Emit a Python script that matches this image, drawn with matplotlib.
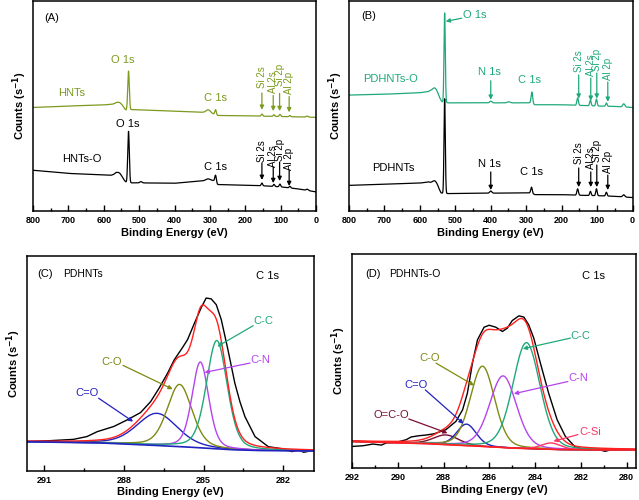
import numpy as np
import matplotlib
matplotlib.use("Agg")
from matplotlib import pyplot as plt

plt.rcParams['font.family'] = ['Liberation Sans', 'DejaVu Sans']

# ---------------- survey spectra (A), (B) ----------------
# baseline points (binding energy, counts)
hnts_base_E = [800, 700, 600, 565, 548, 538, 520, 400, 320, 295, 280, 200, 100, 0]
hnts_base_y = [49.3, 50.0, 50.5, 51.0, 49.5, 48.0, 48.3, 47.5, 47.0, 46.5, 45.5, 45.3, 45.0, 44.6]
# peaks: position, height, sigma
hnts_peaks = [(555, 1.5, 8), (530, 18.5, 2.2), (305, 1.5, 6), (284, 2.5, 2.2), (153, 1.0, 2),
              (119, 0.8, 2), (102, 1.0, 2), (74, 0.6, 2), (25, 0.5, 3)]

hntso_base_E = [800, 700, 580, 565, 545, 535, 500, 400, 350, 310, 290, 278, 200, 150, 100, 50, 0]
hntso_base_y = [19.4, 17.9, 17.0, 17.5, 14.5, 13.4, 13.4, 13.2, 14.0, 14.5, 14.5, 12.6, 12.3, 12.0, 11.5, 10.5, 9.1]
hntso_peaks = [(555, 2.0, 8), (530, 24.5, 2.2), (495, 0.6, 3), (305, 0.8, 6), (284, 3.5, 2.2),
               (153, 1.3, 2), (119, 1.0, 2), (102, 1.3, 2), (74, 0.8, 2), (25, 0.6, 3)]

pdo_base_E = [800, 700, 600, 570, 548, 538, 520, 400, 300, 290, 275, 200, 100, 50, 0]
pdo_base_y = [55.2, 55.6, 56.3, 57.0, 54.5, 52.0, 51.5, 51.5, 51.5, 51.5, 50.6, 50.6, 50.0, 49.8, 49.3]
pdo_peaks = [(557, 3.0, 7), (530, 42.5, 1.8), (400, 0.8, 3), (350, 0.5, 4), (284, 5.5, 2.2),
             (155, 3.5, 2.2), (119, 2.8, 2), (102, 3.3, 2), (74, 1.5, 2), (25, 1.5, 3)]

pd_base_E = [800, 700, 600, 575, 550, 540, 520, 400, 300, 290, 275, 200, 150, 100, 50, 0]
pd_base_y = [12.2, 12.8, 13.3, 13.8, 11.0, 8.5, 8.3, 8.5, 8.6, 8.6, 7.8, 7.8, 7.5, 7.3, 7.0, 6.4]
pd_peaks = [(557, 2.5, 7), (530, 45.0, 1.8), (400, 1.0, 3), (285, 3.0, 2.2), (155, 3.0, 2.2),
            (119, 2.0, 2), (102, 3.3, 2), (74, 1.8, 2), (25, 1.0, 3)]

# ---------------- C 1s, PDHNTs (C) ----------------
c_raw_E = [291.67, 290.78, 289.9, 289.39, 289.0, 288.38, 287.87, 287.37, 286.99, 286.67, 286.35,
           286.1, 285.78, 285.6, 285.34, 285.09, 284.9, 284.71, 284.52, 284.33, 284.08, 283.82,
           283.63, 283.44, 283.06, 282.56, 281.92, 281.67, 281.42, 281.23, 280.78]
c_raw_y = [13.6, 14.0, 14.6, 15.9, 18.2, 20.6, 23.7, 27.1, 32.2, 38.5, 45.5, 51.7, 57.6, 61.1,
           68.8, 75.9, 80.5, 80.1, 77.4, 70.4, 56.4, 40.8, 32.2, 25.2, 15.9, 11.2, 10.0, 8.9,
           9.7, 8.6, 9.7]
c_bg_E = [291.7, 289.0, 287.5, 286.0, 285.0, 284.0, 283.0, 282.0, 280.8]
c_bg_y = [13.5, 13.0, 12.2, 11.3, 10.6, 9.8, 9.4, 9.3, 9.2]
c_names = ['C=O', 'C-O', 'C-N', 'C-C']
c_centers = [286.75, 285.9, 285.12, 284.5]
c_heights = [15.0, 29.0, 40.0, 50.5]
c_fwhm = [1.8, 1.1, 0.74, 0.92]
c_colors = ['#2222c0', '#7f8a12', '#b444ee', '#1fa97a']

# ---------------- C 1s, PDHNTs-O (D) ----------------
d_raw_E = [291.96, 291.52, 291.09, 290.72, 290.51, 290.07, 289.64, 289.42, 289.06, 288.77, 288.41,
           287.9, 287.46, 287.17, 286.96, 286.74, 286.52, 286.23, 286.01, 285.72, 285.43, 285.22,
           285.0, 284.71, 284.49, 284.28, 284.06, 283.77, 283.41, 283.04, 282.68, 282.25, 281.81,
           281.23, 280.94, 280.65, 279.71]
d_raw_y = [10.1, 10.4, 11.2, 10.7, 11.7, 12.0, 13.2, 14.5, 15.1, 15.4, 16.0, 17.9, 21.8, 27.2, 35.0,
           49.0, 59.9, 65.8, 66.7, 65.8, 63.8, 65.3, 68.9, 71.1, 70.5, 66.9, 60.7, 49.0, 35.0, 22.6,
           14.8, 9.8, 8.6, 8.6, 7.8, 8.6, 8.6]
d_bg_E = [292.0, 289.0, 287.0, 285.0, 283.0, 282.0, 279.6]
d_bg_y = [12.4, 11.5, 10.5, 9.3, 8.6, 8.5, 8.5]
d_names = ['O=C-O', 'C=O', 'C-O', 'C-N', 'C-C', 'C-Si']
d_centers = [287.9, 287.0, 286.3, 285.4, 284.38, 283.3]
d_heights = [4.5, 10.0, 37.5, 33.5, 49.5, 3.0]
d_fwhm = [1.3, 1.0, 1.25, 1.38, 1.4, 1.0]
d_colors = ['#7a1030', '#2222c0', '#7f8a12', '#b444ee', '#1fa97a', '#ff3366']

# rotated peak labels of the survey spectra
labs = ['Si 2s', 'Al 2s', 'Si 2p', 'Al 2p']
a_lab_E = [153, 121, 103, 76]
b_lab_E = [152, 118, 101, 70]

GREEN = '#7b9a1e'
TEAL = '#1fa97a'
RED = '#ff2020'


def survey(E, base_E, base_y, peaks):
    y = np.interp(E, base_E[::-1], base_y[::-1])
    for p, h, s in peaks:
        y = y + h * np.exp(-0.5 * ((E - p) / s) ** 2)
    return y


def pv(E, c, h, w, eta=0.3):
    u = ((E - c) / w) ** 2
    return h * (eta / (1 + 4 * u) + (1 - eta) * np.exp(-4 * np.log(2) * u))


def style(ax, xlim, major, minor):
    ax.set_xlim(*xlim)
    ax.set_ylim(0, 100)
    ax.set_xticks(major)
    ax.set_xticks(minor, minor=True)
    ax.set_yticks([])
    ax.tick_params(axis='x', which='both', direction='in', labelsize=6.5)
    ax.tick_params(axis='x', which='major', length=4, width=1)
    ax.tick_params(axis='x', which='minor', length=2.5, width=1)
    for lab in ax.get_xticklabels():
        lab.set_fontweight('bold')
    for s in ax.spines.values():
        s.set_linewidth(1.1)
    ax.set_xlabel('Binding Energy (eV)', fontsize=8, fontweight='bold', labelpad=2)
    ax.set_ylabel('Counts (s$^{\\mathbf{-1}}$)', fontsize=8, fontweight='bold', labelpad=3)


def varrow(ax, x, y0, y1, c):
    ax.annotate('', xy=(x, y1), xytext=(x, y0),
                arrowprops=dict(arrowstyle='-|>', color=c, lw=0.9, mutation_scale=6,
                                shrinkA=0, shrinkB=0))


def rot_labels(ax, xs, ycent, tails, tips, c):
    for x, t, yc, y0, y1 in zip(xs, labs, ycent, tails, tips):
        ax.text(x, yc, t, rotation=90, ha='center', va='center', fontsize=7, color=c)
        varrow(ax, x, y0, y1, c)


def note(ax, txt, xy, xytext, tail, c):
    ax.text(xytext[0], xytext[1], txt, ha='center', va='center', fontsize=8, color=c)
    ax.annotate('', xy=xy, xytext=tail,
                arrowprops=dict(arrowstyle='-|>', color=c, lw=0.9, mutation_scale=6,
                                shrinkA=0, shrinkB=0))


fig = plt.figure(figsize=(6.39, 5.0), dpi=100)
E = np.linspace(800, 0, 4001)

# (A)
axA = fig.add_axes([0.0516, 0.578, 0.443, 0.42])
axA.plot(E, survey(E, hnts_base_E, hnts_base_y, hnts_peaks), color=GREEN, lw=0.9)
axA.plot(E, survey(E, hntso_base_E, hntso_base_y, hntso_peaks), color='black', lw=0.9)
style(axA, (800, 0), range(0, 801, 100), range(50, 800, 100))
axA.text(0.067, 0.92, '(A)', transform=axA.transAxes, ha='center', va='center', fontsize=8)
axA.text(690, 56.2, 'HNTs', color=GREEN, ha='center', va='center', fontsize=8)
axA.text(545, 71.9, 'O 1s', color=GREEN, ha='center', va='center', fontsize=8)
axA.text(285, 53.8, 'C 1s', color=GREEN, ha='center', va='center', fontsize=8)
rot_labels(axA, a_lab_E, [63.8, 61.4, 64.8, 60.9],
           [56.2, 55.0, 56.0, 54.5], [48.2, 47.6, 47.6, 47.0], GREEN)
axA.text(661, 24.8, 'HNTs-O', color='black', ha='center', va='center', fontsize=8)
axA.text(531, 41.4, 'O 1s', color='black', ha='center', va='center', fontsize=8)
axA.text(285, 21.0, 'C 1s', color='black', ha='center', va='center', fontsize=8)
rot_labels(axA, a_lab_E, [28.6, 26.2, 29.3, 24.8],
           [22.9, 21.0, 23.3, 19.5], [14.8, 13.3, 14.3, 11.9], 'black')

# (B)
axB = fig.add_axes([0.546, 0.578, 0.444, 0.42])
axB.plot(E, survey(E, pdo_base_E, pdo_base_y, pdo_peaks), color=TEAL, lw=0.9)
axB.plot(E, survey(E, pd_base_E, pd_base_y, pd_peaks), color='black', lw=0.9)
style(axB, (800, 0), range(0, 801, 100), range(50, 800, 100))
axB.text(0.07, 0.93, '(B)', transform=axB.transAxes, ha='center', va='center', fontsize=8)
axB.text(445, 93.3, 'O 1s', color=TEAL, ha='center', va='center', fontsize=8)
axB.annotate('', xy=(527, 90.3), xytext=(482, 91.8),
             arrowprops=dict(arrowstyle='-|>', color=TEAL, lw=0.9, mutation_scale=6,
                             shrinkA=0, shrinkB=0))
axB.text(684, 62.9, 'PDHNTs-O', color=TEAL, ha='center', va='center', fontsize=8)
axB.text(403, 66.2, 'N 1s', color=TEAL, ha='center', va='center', fontsize=8)
varrow(axB, 400, 62.0, 53.0, TEAL)
axB.text(290, 62.4, 'C 1s', color=TEAL, ha='center', va='center', fontsize=8)
rot_labels(axB, b_lab_E, [71.2, 69.5, 71.7, 67.6],
           [64.8, 63.3, 65.7, 61.4], [53.5, 52.5, 53.5, 52.0], TEAL)
axB.text(676, 20.5, 'PDHNTs', color='black', ha='center', va='center', fontsize=8)
axB.text(403, 22.5, 'N 1s', color='black', ha='center', va='center', fontsize=8)
varrow(axB, 400, 18.6, 10.0, 'black')
axB.text(284, 18.6, 'C 1s', color='black', ha='center', va='center', fontsize=8)
rot_labels(axB, b_lab_E, [27.4, 25.0, 28.6, 23.6],
           [20.5, 18.6, 21.9, 17.1], [11.4, 11.4, 11.4, 10.0], 'black')

# (C)
Ec = np.linspace(291.7, 280.8, 600)
bgc = np.interp(Ec, c_bg_E[::-1], c_bg_y[::-1])
axC = fig.add_axes([0.042, 0.0586, 0.449, 0.429])
axC.plot(c_raw_E, c_raw_y, color='black', lw=1.0)
tot = bgc.copy()
for c, h, w, col in zip(c_centers, c_heights, c_fwhm, c_colors):
    comp = pv(Ec, c, h, w, 0.3)
    tot += comp
    axC.plot(Ec, bgc + comp, color=col, lw=1.0)
axC.plot(Ec, tot, color=RED, lw=1.0)
axC.plot(Ec, bgc, color='#2222c0', lw=1.2)
style(axC, (291.65, 280.85), [291, 288, 285, 282], [289.5, 286.5, 283.5])
axC.text(0.063, 0.916, '(C)', transform=axC.transAxes, ha='center', va='center', fontsize=8)
axC.text(0.196, 0.916, 'PDHNTs', transform=axC.transAxes, ha='center', va='center', fontsize=7.5)
axC.text(0.84, 0.91, 'C 1s', transform=axC.transAxes, ha='center', va='center', fontsize=8)
note(axC, 'C-C', (284.48, 57.9), (282.75, 69.6), (283.13, 67.6), c_colors[3])
note(axC, 'C-N', (284.96, 45.8), (282.87, 51.7), (283.25, 50.2), c_colors[2])
note(axC, 'C-O', (286.16, 38.0), (288.44, 50.9), (288.03, 49.1), c_colors[1])
note(axC, 'C=O', (287.65, 22.9), (289.37, 36.1), (288.95, 33.8), c_colors[0])

# (D)
Ed = np.linspace(292.0, 279.6, 600)
bgd = np.interp(Ed, d_bg_E[::-1], d_bg_y[::-1])
axD = fig.add_axes([0.551, 0.064, 0.444, 0.428])
axD.plot(d_raw_E, d_raw_y, color='black', lw=1.0)
tot = bgd.copy()
for c, h, w, col in zip(d_centers, d_heights, d_fwhm, d_colors):
    comp = pv(Ed, c, h, w, 0.2)
    tot += comp
    axD.plot(Ed, bgd + comp, color=col, lw=1.0)
axD.plot(Ed, bgd, color=RED, lw=1.2)
axD.plot(Ed, tot, color=RED, lw=1.0)
style(axD, (292.0, 279.6), range(280, 293, 2), range(281, 292, 2))
axD.text(0.075, 0.907, '(D)', transform=axD.transAxes, ha='center', va='center', fontsize=8)
axD.text(0.222, 0.907, 'PDHNTs-O', transform=axD.transAxes, ha='center', va='center', fontsize=7.5)
axD.text(0.85, 0.897, 'C 1s', transform=axD.transAxes, ha='center', va='center', fontsize=8)
note(axD, 'C-C', (284.54, 55.7), (282.03, 61.7), (282.46, 60.7), d_colors[4])
note(axD, 'C-N', (284.93, 34.7), (282.13, 42.0), (282.57, 40.4), d_colors[3])
note(axD, 'C-O', (286.67, 38.6), (288.62, 51.3), (288.33, 49.0), d_colors[2])
note(axD, 'C=O', (287.13, 20.7), (289.2, 38.9), (288.8, 36.5), d_colors[1])
note(axD, 'O=C-O', (287.83, 16.3), (290.29, 24.9), (289.52, 22.9), d_colors[0])
note(axD, 'C-Si', (283.2, 12.5), (281.59, 16.6), (282.13, 15.6), d_colors[5])

plt.savefig("out.png", dpi=100)
